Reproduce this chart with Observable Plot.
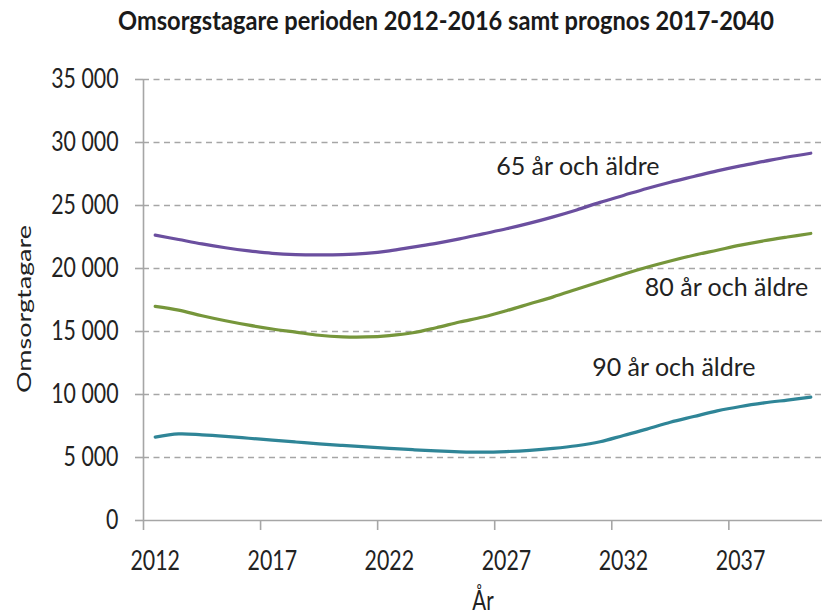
<!DOCTYPE html>
<html>
<head>
<meta charset="utf-8">
<script src="https://cdn.jsdelivr.net/npm/d3@7"></script>
<script src="https://cdn.jsdelivr.net/npm/@observablehq/plot@0.6"></script>
<style>
  html, body { margin: 0; padding: 0; background: #fff; }
  #wrap { width: 823px; height: 616px; position: relative; overflow: hidden; }
  #title { height: 50px; width: 823px; position: relative; }
  #title span { position: absolute; left: 118px; top: 5px; font-family: Lato, "Open Sans", sans-serif; font-weight: bold; font-size: 27px; line-height: 30px; color: #1a1a1a; white-space: nowrap; transform-origin: 0 0; }
  svg { display: block; }
</style>
</head>
<body>
<div id="wrap">
  <div id="title"><span>Omsorgstagare perioden 2012-2016 samt prognos 2017-2040</span></div>
  <div id="chart"></div>
</div>
<script>
const years = d3.range(2012, 2041);
const age65 = [22650, 22300, 21950, 21650, 21400, 21200, 21100, 21080, 21100, 21200, 21400, 21700, 22000, 22350, 22750, 23150, 23600, 24100, 24650, 25250, 25800, 26350, 26850, 27300, 27750, 28150, 28500, 28850, 29150];
const age80 = [17000, 16700, 16250, 15850, 15500, 15200, 14950, 14700, 14580, 14570, 14680, 14900, 15300, 15750, 16150, 16650, 17200, 17750, 18350, 18950, 19550, 20100, 20600, 21050, 21450, 21850, 22200, 22500, 22780];
const age90 = [6620, 6870, 6800, 6680, 6530, 6380, 6230, 6080, 5960, 5850, 5730, 5620, 5520, 5450, 5420, 5470, 5570, 5720, 5930, 6250, 6750, 7250, 7800, 8250, 8700, 9050, 9330, 9560, 9790];
const seriesNames = ["65 år och äldre", "80 år och äldre", "90 år och äldre"];
const seriesColors = ["#6b4f9f", "#76963b", "#2f8597"];
const yTicks = [0, 5000, 10000, 15000, 20000, 25000, 30000, 35000];
const xTickLabels = [2012, 2017, 2022, 2027, 2032, 2037];
const labelAnchors = [
  {name: "65 år och äldre", year: 2030.05, value: 28020},
  {name: "80 år och äldre", year: 2036.4, value: 18440},
  {name: "90 år och äldre", year: 2034.15, value: 12090}
];

const rows = [];
[age65, age80, age90].forEach((arr, i) => arr.forEach((v, j) => rows.push({series: seriesNames[i], year: years[j], value: v})));

const font = 'Lato, "Open Sans", sans-serif';
const fmt = d => d === 0 ? "0" : d3.format(",")(d).replace(/,/g, " ");

const chart = Plot.plot({
  width: 823,
  height: 566,
  marginLeft: 143,
  marginRight: 1,
  marginTop: 29,
  marginBottom: 96,
  style: {fontFamily: font, fontSize: "26px", color: "#222", background: "#fff"},
  x: {domain: [2011.5, 2040.5]},
  y: {domain: [0, 35000]},
  color: {domain: seriesNames, range: seriesColors},
  marks: [
    Plot.ruleY(yTicks.filter(d => d > 0), {stroke: "#a6a6a6", strokeWidth: 1.6, strokeDasharray: "6,4.5"}),
    Plot.ruleX([2011.5], {y1: 0, y2: 35000, stroke: "#a6a6a6", strokeWidth: 1.6}),
    Plot.ruleY([0], {stroke: "#a6a6a6", strokeWidth: 1.6}),
    Plot.axisY({ticks: yTicks, tickFormat: fmt, tickSize: 8, tickPadding: 17, stroke: "#a6a6a6", strokeWidth: 1.6, strokeOpacity: 1, fill: "#222", fontSize: 27, label: null, className: "squeeze"}),
    Plot.axisX({ticks: xTickLabels.map(d => d - 0.5), tickSize: 10, tickFormat: () => "", stroke: "#a6a6a6", strokeWidth: 1.6, strokeOpacity: 1, label: null}),
    Plot.axisX({ticks: xTickLabels, tickSize: 0, tickPadding: 30, tickFormat: d => String(d), fill: "#222", fontSize: 27, label: null, className: "squeeze"}),
    Plot.line(rows, {x: "year", y: "value", stroke: "series", strokeWidth: 3.2, curve: "catmull-rom"}),
    Plot.text(labelAnchors, {x: "year", y: "value", text: "name", fontSize: 25, fill: "#222", textAnchor: "middle", lineAnchor: "middle"}),
    Plot.text(["Omsorgtagare"], {frameAnchor: "left", dx: -119, dy: 93, rotate: -90, fontSize: 20, fill: "#222", textAnchor: "start", className: "ylab"}),
    Plot.text(["År"], {frameAnchor: "bottom", dy: 81, fontSize: 26, fill: "#222", lineAnchor: "middle", className: "squeeze"})
  ]
});
document.getElementById("chart").appendChild(chart);

// narrow the glyphs horizontally (the reference uses a condensed face)
d3.select(chart).selectAll("[class^='squeeze'] text, .squeeze text").each(function() {
  const len = this.getComputedTextLength();
  if (len > 0) d3.select(this).attr("textLength", len * 0.79).attr("lengthAdjust", "spacingAndGlyphs");
});
d3.select(chart).selectAll(".ylab text").attr("textLength", 168).attr("lengthAdjust", "spacingAndGlyphs");

const ts = document.querySelector("#title span");
const tw = ts.getBoundingClientRect().width;
ts.style.transform = `scaleX(${656 / tw})`;
</script>
</body>
</html>
